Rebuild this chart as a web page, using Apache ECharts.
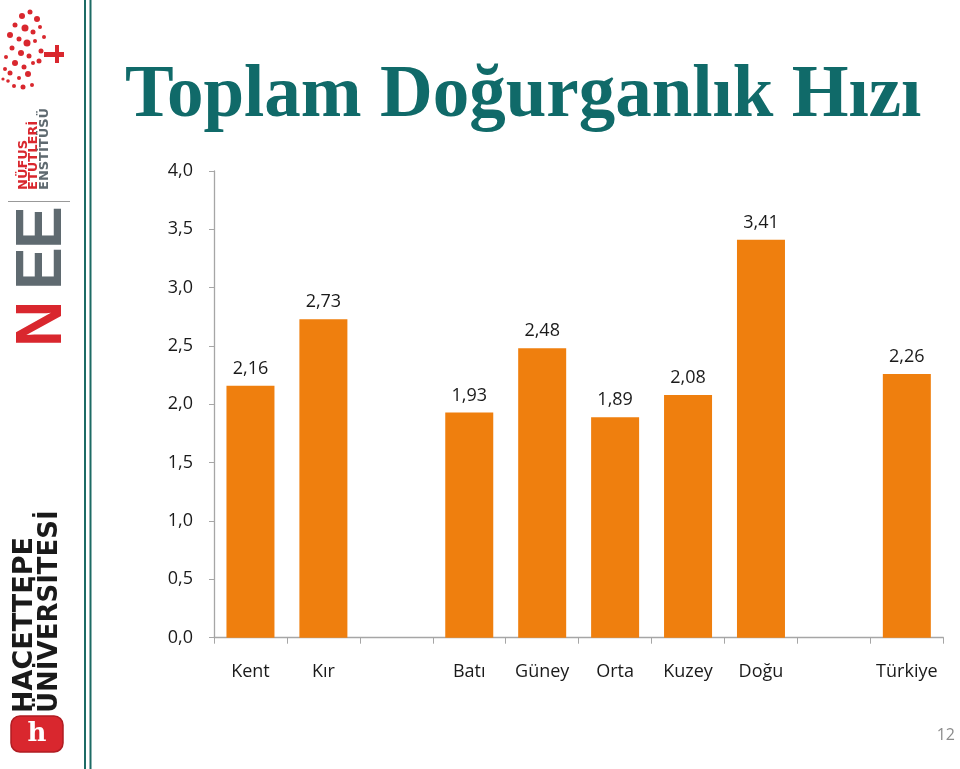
<!DOCTYPE html>
<html>
<head>
<meta charset="utf-8">
<script src="https://cdn.jsdelivr.net/npm/echarts@6/dist/echarts.min.js"></script>
<style>
html,body{margin:0;padding:0;background:#fff;}
#chart{width:960px;height:769px;}
</style>
</head>
<body>
<div id="chart"></div>
<script>
const categories = ['Kent', 'Kır', '', 'Batı', 'Güney', 'Orta', 'Kuzey', 'Doğu', '', 'Türkiye'];
const values = [2.16, 2.73, null, 1.93, 2.48, 1.89, 2.08, 3.41, null, 2.26];
const yTicks = [0, 0.5, 1.0, 1.5, 2.0, 2.5, 3.0, 3.5, 4.0];
const titleText = 'Toplam Doğurganlık Hızı';
const pageNumber = '12';

const fmt = v => v.toFixed(1).replace('.', ',');
const chart = echarts.init(document.getElementById('chart'));

const teal = '#1d6b65';
const red = '#d9272e';
const gray = '#5f6a70';

// tree dots (decorative)
const dots = [
 [22,16,3],[30,12,2.5],[37,19,3],[15,25,2.5],[25,28,3.5],[33,32,2.5],[40,27,2],[10,35,3],[19,39,2.5],[27,43,3.5],
 [35,41,2],[12,48,2.5],[21,53,3],[29,56,2.5],[6,57,2],[15,63,3],[24,67,2.5],[33,63,2],[10,73,2.5],[19,78,2],
 [28,74,3],[5,69,2],[14,86,2],[23,87,2.5],[32,85,2],[41,51,2.5],[39,61,2.5],[44,37,2],[8,81,1.8],[3,79,1.6]
];
const treeEls = dots.map(d => ({type:'circle', shape:{cx:d[0], cy:d[1], r:d[2]}, style:{fill:red}}));
treeEls.push({type:'rect', shape:{x:44, y:52, width:20, height:5}, style:{fill:red}});
treeEls.push({type:'rect', shape:{x:55, y:45, width:4, height:18}, style:{fill:red}});

chart.setOption({
  animation: false,
  backgroundColor: '#ffffff',
  title: {
    text: titleText,
    left: 120,
    top: 56,
    textStyle: {fontFamily: 'Liberation Serif', fontWeight: 'bold', fontSize: 73, color: '#106a69'}
  },
  grid: {left: 214, right: 16.7, top: 171, bottom: 769 - 637.7},
  xAxis: {
    type: 'category',
    data: categories,
    axisLine: {lineStyle: {color: '#a6a6a6', width: 1.3}},
    axisTick: {show: true, length: 6, lineStyle: {color: '#a6a6a6'}},
    axisLabel: {interval: 0, margin: 25, fontSize: 18, color: '#1a1a1a', fontFamily: 'Open Sans'}
  },
  yAxis: {
    type: 'value',
    min: 0, max: 4, interval: 0.5,
    splitLine: {show: false},
    axisLine: {show: true, lineStyle: {color: '#a6a6a6', width: 1.3}},
    axisTick: {show: true, length: 5, lineStyle: {color: '#a6a6a6'}},
    axisLabel: {margin: 21, fontSize: 18, color: '#1a1a1a', fontFamily: 'Open Sans', formatter: v => fmt(v)}
  },
  series: [{
    type: 'bar',
    data: values,
    barWidth: 48,
    itemStyle: {color: '#ef7f0e'},
    label: {show: true, position: 'top', distance: 8, fontSize: 18, color: '#1a1a1a', fontFamily: 'Open Sans',
      formatter: p => p.value.toFixed(2).replace('.', ',')}
  }],
  graphic: [
    {type:'rect', shape:{x:84, y:0, width:2, height:769}, style:{fill:teal}},
    {type:'rect', shape:{x:89.5, y:0, width:2, height:769}, style:{fill:teal}},
    {type:'group', children: treeEls},
    // NÜFUS ETÜTLERİ ENSTİTÜSÜ
    {type:'text', x:30, y:190, rotation:Math.PI/2, style:{text:'NÜFUS', font:'bold 13px "DejaVu Sans"', fill:red, textVerticalAlign:'bottom'}},
    {type:'text', x:40, y:190, rotation:Math.PI/2, style:{text:'ETÜTLERİ', font:'bold 13px "DejaVu Sans"', fill:red, textVerticalAlign:'bottom'}},
    {type:'text', x:51, y:190, rotation:Math.PI/2, style:{text:'ENSTİTÜSÜ', font:'bold 13px "DejaVu Sans"', fill:gray, textVerticalAlign:'bottom'}},
    {type:'rect', shape:{x:8, y:201, width:62, height:1}, style:{fill:'#999'}},
    // NEE
    {type:'text', x:75, y:347, rotation:Math.PI/2, style:{text:'N', font:'bold 64px "Liberation Sans"', fill:red, textVerticalAlign:'bottom'}},
    {type:'text', x:75, y:290, rotation:Math.PI/2, style:{text:'E', font:'bold 64px "Liberation Sans"', fill:gray, textVerticalAlign:'bottom'}},
    {type:'text', x:75, y:249, rotation:Math.PI/2, style:{text:'E', font:'bold 64px "Liberation Sans"', fill:gray, textVerticalAlign:'bottom'}},
    // HACETTEPE ÜNİVERSİTESİ
    {type:'text', x:38, y:713, rotation:Math.PI/2, style:{text:'HACETTEPE', font:'bold 27px "DejaVu Sans"', fill:'#1a1a1a', textVerticalAlign:'bottom'}},
    {type:'text', x:63, y:713, rotation:Math.PI/2, style:{text:'ÜNİVERSİTESİ', font:'bold 26px "DejaVu Sans"', fill:'#1a1a1a', textVerticalAlign:'bottom'}},
    {type:'rect', shape:{x:11, y:716, width:52, height:36, r:9}, style:{fill:red, stroke:'#b01c22', lineWidth:1.5}},
    {type:'text', x:37, y:734, style:{text:'h', font:'bold 26px "DejaVu Serif"', fill:'#fff', textAlign:'center', textVerticalAlign:'middle'}},
    // page number
    {type:'text', x:955, y:735, style:{text:pageNumber, font:'16px "Open Sans"', fill:'#8c8c8c', textAlign:'right', textVerticalAlign:'middle'}}
  ]
});
</script>
</body>
</html>
